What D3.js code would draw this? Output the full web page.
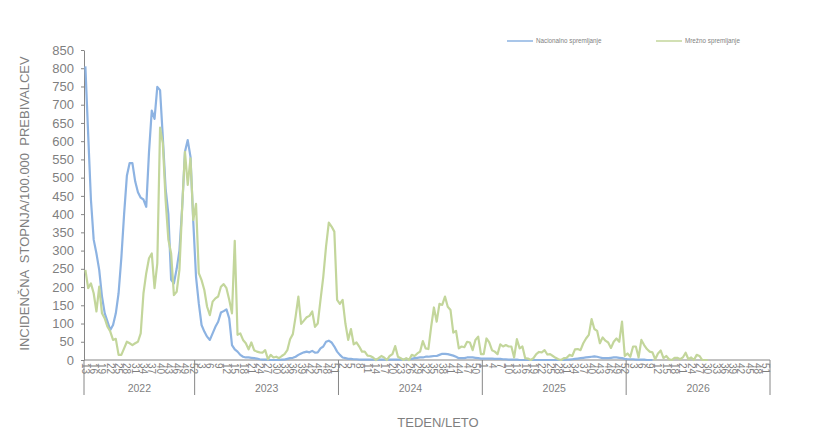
<!DOCTYPE html>
<html>
<head>
<meta charset="utf-8">
<script src="https://cdn.jsdelivr.net/npm/d3@7"></script>
<style>
  body { margin: 0; background: #fff; }
  text { font-family: "Liberation Sans", Arial, sans-serif; fill: #7f7f7f; }
</style>
</head>
<body>
<svg id="chart" width="832" height="434"></svg>
<script>
/////////////////////////// Data ///////////////////////////
const years = ["2022", "2023", "2024", "2025", "2026"];
const firstWeek = [13, 1, 1, 1, 1];
const lastWeek = [52, 52, 52, 52, 52];

const seriesNames = ["Nacionalno spremljanje", "Mrežno spremljanje"];
const seriesColors = ["#8db3e2", "#c3d69b"];

// Nacionalno spremljanje, one value per week from 2022 w13
const nacionalno = [
  805, 620, 440, 330, 292, 247, 174, 128, 105, 82,
  96, 128, 183, 280, 400, 505, 540, 540, 490, 460,
  445, 440, 420, 570, 684, 661, 749, 740, 610, 470,
  400, 220, 210, 250, 300, 420, 571, 603, 557, 380,
  228, 155, 96, 78, 64, 55, 73, 91, 105, 130,
  134, 139, 114, 41, 29, 23, 14, 9, 7, 7,
  6, 5, 4, 2, 1, 1, 1, 0, 0, 0,
  0, 1, 1, 3, 5, 6, 9, 14, 18, 21,
  23, 21, 25, 20, 21, 32, 37, 50, 53, 48,
  37, 23, 14, 7, 5, 3, 3, 2, 2, 1,
  1, 1, 1, 1, 1, 1, 1, 1, 1, 1,
  1, 1, 1, 1, 1, 1, 2, 2, 3, 5,
  6, 7, 7, 9, 9, 10, 11, 11, 14, 17,
  17, 16, 14, 12, 9, 5, 5, 5, 7, 7,
  7, 6, 5, 4, 4, 4, 4, 4, 3, 3,
  3, 2, 2, 1, 1, 1, 1, 0, 0, 0,
  0, 0, 0, 0, 0, 0, 0, 0, 0, 0,
  0, 0, 0, 0, 1, 1, 2, 3, 4, 5,
  6, 7, 8, 9, 10, 9, 7, 5, 5, 5,
  6, 7, 7, 6, 5, 3, 2, 2, 2, 1,
  1, 1, 1, 0, 0, 0
];

// Mrežno spremljanje
const mrezno = [
  247, 197, 210, 183, 133, 201, 128, 114, 91, 78,
  55, 58, 14, 14, 32, 50, 46, 41, 46, 50,
  73, 183, 238, 279, 292, 197, 265, 637, 594, 439,
  330, 292, 178, 187, 247, 420, 571, 480, 553, 384,
  428, 238, 219, 192, 146, 123, 160, 169, 174, 201,
  208, 197, 165, 128, 327, 69, 73, 55, 46, 29,
  48, 27, 23, 21, 20, 27, 2, 14, 7, 9,
  5, 11, 16, 27, 57, 71, 119, 174, 99, 108,
  117, 121, 133, 91, 100, 165, 228, 311, 377, 366,
  352, 165, 154, 165, 100, 55, 85, 43, 48, 37,
  23, 23, 12, 11, 7, 0, 5, 11, 7, 0,
  11, 16, 38, 9, 5, 0, 5, 0, 14, 11,
  18, 23, 52, 32, 30, 91, 144, 105, 154, 151,
  174, 146, 137, 75, 80, 32, 37, 35, 50, 48,
  27, 55, 64, 16, 16, 59, 48, 27, 23, 16,
  43, 37, 41, 37, 37, 7, 57, 32, 37, 5,
  4, 0, 5, 16, 22, 21, 27, 15, 16, 11,
  6, 2, 0, 5, 6, 14, 11, 29, 30, 27,
  46, 59, 69, 112, 85, 80, 46, 62, 53, 48,
  33, 50, 59, 50, 105, 11, 18, 9, 37, 37,
  7, 55, 41, 30, 23, 21, 2, 18, 26, 5,
  11, 2, 0, 6, 6, 2, 7, 20, 2, 7,
  0, 14, 11, 0, 0, 0
];

const yTicks = d3.range(0, 851, 50);

// categories: one per week, grouped by year
const categories = [];
years.forEach((yr, k) => {
  for (let w = firstWeek[k]; w <= lastWeek[k]; w++) categories.push({ year: yr, week: w });
});

/////////////////////////// Chart ///////////////////////////
const svg = d3.select("#chart");
const plotLeft = 84, plotRight = 770, plotTop = 50, plotBottom = 360;
const axisColor = "#868686";

const x = d3.scaleBand()
  .domain(categories.map((d, i) => i))
  .range([plotLeft, plotRight]);
const cx = i => x(i) + x.bandwidth() / 2;

const y = d3.scaleLinear()
  .domain([0, 850])
  .range([plotBottom, plotTop]);

//_________________ Y axis
const yAxis = svg.append("g")
  .attr("transform", `translate(${plotLeft},0)`)
  .call(d3.axisLeft(y).tickValues(yTicks).tickSize(3).tickPadding(7).tickSizeOuter(0));
yAxis.select(".domain").attr("stroke", axisColor);
yAxis.selectAll(".tick line").attr("stroke", axisColor);
yAxis.selectAll("text")
  .style("font-size", "13px")
  .style("font-family", "Liberation Sans, Arial, sans-serif")
  .attr("fill", "#808080");

svg.append("text")
  .attr("transform", "translate(29,203.5) rotate(-90)")
  .attr("text-anchor", "middle")
  .style("font-size", "13px")
  .style("white-space", "pre")
  .attr("xml:space", "preserve")
  .text("INCIDENČNA  STOPNJA/100.000  PREBIVALCEV");

//_________________ X axis
svg.append("line")
  .attr("x1", plotLeft).attr("x2", plotRight)
  .attr("y1", plotBottom).attr("y2", plotBottom)
  .attr("stroke", axisColor);

// week labels, every third category
svg.append("g").selectAll("text")
  .data(categories.map((d, i) => ({ ...d, i })).filter(d => d.i % 3 === 0))
  .enter().append("text")
  .attr("transform", d => `translate(${cx(d.i) - 3.5},${plotBottom + 3}) rotate(90)`)
  .attr("text-anchor", "start")
  .style("font-size", "10px")
  .text(d => d.week);

// year group boundaries and labels
const yearStart = years.map(yr => categories.findIndex(c => c.year === yr));
const yearEnd = years.map((yr, k) => yearStart[k] + (lastWeek[k] - firstWeek[k]));
const boundaries = yearStart.map(i => x(i)).concat([x(yearEnd[yearEnd.length - 1]) + x.bandwidth()]);

svg.append("g").selectAll("line")
  .data(boundaries)
  .enter().append("line")
  .attr("x1", d => d).attr("x2", d => d)
  .attr("y1", plotBottom).attr("y2", plotBottom + 35)
  .attr("stroke", axisColor);

svg.append("g").selectAll("text")
  .data(years)
  .enter().append("text")
  .attr("x", (d, k) => (x(yearStart[k]) + x(yearEnd[k]) + x.bandwidth()) / 2)
  .attr("y", plotBottom + 32)
  .attr("text-anchor", "middle")
  .style("font-size", "10.5px")
  .text(d => d);

svg.append("text")
  .attr("x", 438)
  .attr("y", 427)
  .attr("text-anchor", "middle")
  .style("font-size", "13px")
  .text("TEDEN/LETO");

//_________________ Lines
const line = d3.line()
  .x((d, i) => cx(i))
  .y(d => y(d));

[nacionalno, mrezno].forEach((s, k) => {
  svg.append("path")
    .datum(s)
    .attr("fill", "none")
    .attr("stroke", seriesColors[k])
    .attr("stroke-width", 2.2)
    .attr("stroke-linejoin", "round")
    .attr("d", line);
});

//_________________ Legend
const legendX = [507, 656];
const legend = svg.append("g").selectAll("g")
  .data(seriesNames)
  .enter().append("g")
  .attr("transform", (d, k) => `translate(${legendX[k]},41)`);
legend.append("line")
  .attr("x1", 0).attr("x2", 26)
  .attr("stroke", (d, k) => seriesColors[k])
  .attr("stroke-width", 1.5);
legend.append("text")
  .attr("x", 29)
  .attr("y", 2.2)
  .style("font-size", "6.3px")
  .text(d => d);
</script>
</body>
</html>
